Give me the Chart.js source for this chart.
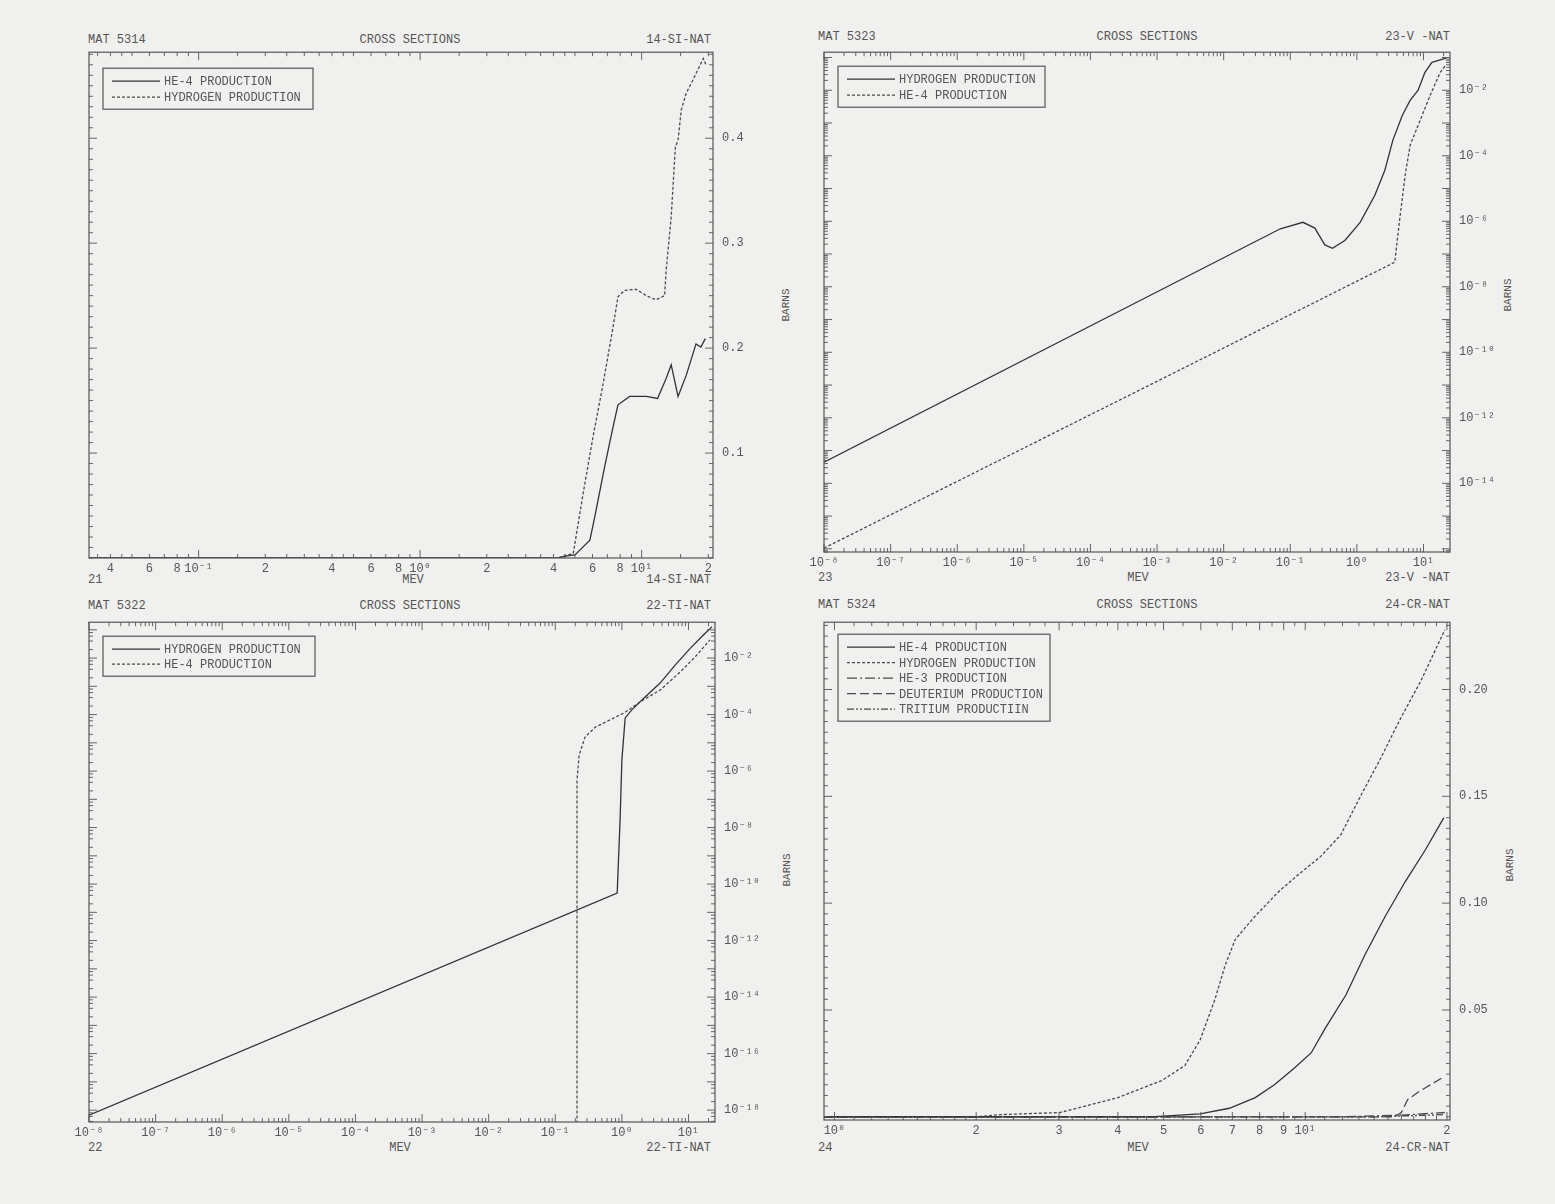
<!DOCTYPE html>
<html>
<head>
<meta charset="utf-8">
<script src="https://cdn.jsdelivr.net/npm/chart.js@4.4.1/dist/chart.umd.min.js"></script>
<style>
  body { margin: 0; width: 1555px; height: 1204px; position: relative; overflow: hidden;
         background: #f0f0ee; font-family: 'Liberation Mono', 'DejaVu Sans Mono', monospace; color: #555; }
  .t { position: absolute; font-size: 12px; line-height: 12px; white-space: pre; }
  .c { transform: translateX(-50%); }
  .r { transform: translateX(-100%); }
  .barns { position: absolute; font-size: 11px; line-height: 11px; transform: translate(-50%, -50%) rotate(-90deg); }
  canvas { position: absolute; }
</style>
</head>
<body>
<!-- panel 1 texts -->
<div class="t" style="left:88px;top:34px">MAT 5314</div>
<div class="t c" style="left:410px;top:34px">CROSS SECTIONS</div>
<div class="t r" style="left:711px;top:34px">14-SI-NAT</div>
<div class="t" style="left:88px;top:574px">21</div>
<div class="t c" style="left:413px;top:574px">MEV</div>
<div class="t r" style="left:711px;top:574px">14-SI-NAT</div>
<div class="barns" style="left:786px;top:305px">BARNS</div>
<!-- panel 2 texts -->
<div class="t" style="left:818px;top:31px">MAT 5323</div>
<div class="t c" style="left:1147px;top:31px">CROSS SECTIONS</div>
<div class="t r" style="left:1450px;top:31px">23-V -NAT</div>
<div class="t" style="left:818px;top:572px">23</div>
<div class="t c" style="left:1138px;top:572px">MEV</div>
<div class="t r" style="left:1450px;top:572px">23-V -NAT</div>
<div class="barns" style="left:1508px;top:295px">BARNS</div>
<!-- panel 3 texts -->
<div class="t" style="left:88px;top:600px">MAT 5322</div>
<div class="t c" style="left:410px;top:600px">CROSS SECTIONS</div>
<div class="t r" style="left:711px;top:600px">22-TI-NAT</div>
<div class="t" style="left:88px;top:1142px">22</div>
<div class="t c" style="left:400px;top:1142px">MEV</div>
<div class="t r" style="left:711px;top:1142px">22-TI-NAT</div>
<div class="barns" style="left:787px;top:870px">BARNS</div>
<!-- panel 4 texts -->
<div class="t" style="left:818px;top:599px">MAT 5324</div>
<div class="t c" style="left:1147px;top:599px">CROSS SECTIONS</div>
<div class="t r" style="left:1450px;top:599px">24-CR-NAT</div>
<div class="t" style="left:818px;top:1142px">24</div>
<div class="t c" style="left:1138px;top:1142px">MEV</div>
<div class="t r" style="left:1450px;top:1142px">24-CR-NAT</div>
<div class="barns" style="left:1510px;top:865px">BARNS</div>

<script>
// ---- 14-SI-NAT (MeV, barns) ----
const siHe4Energy = [0.032, 4.2, 4.6, 5.0, 5.84, 6.14, 6.81, 7.43, 7.82, 8.83, 10.5, 11.8, 12.9, 13.6, 14.6, 15.9, 17.6, 18.5, 19.4];
const siHe4 = [0, 0, 0.002, 0.003, 0.017, 0.039, 0.087, 0.125, 0.146, 0.154, 0.154, 0.152, 0.171, 0.184, 0.154, 0.174, 0.204, 0.201, 0.209];
const siHEnergy = [0.032, 4.2, 4.6, 4.91, 5.45, 6.04, 6.70, 7.43, 7.82, 8.37, 9.46, 10.5, 11.6, 12.7, 12.9, 13.6, 14.2, 14.6, 15.1, 15.9, 17.0, 18.2, 19.0, 19.5];
const siH = [0, 0, 0.003, 0.004, 0.062, 0.116, 0.166, 0.220, 0.249, 0.255, 0.256, 0.250, 0.246, 0.250, 0.274, 0.325, 0.392, 0.398, 0.427, 0.443, 0.455, 0.468, 0.476, 0.470];

// ---- 23-V-NAT ----
const vHEnergy = [1e-8, 0.071, 0.155, 0.234, 0.33, 0.43, 0.66, 1.12, 1.86, 2.63, 3.47, 4.8, 6.3, 8.3, 10.5, 13.4, 21.9];
const vH = [4.4e-14, 5.9e-7, 9.3e-7, 6.2e-7, 1.9e-7, 1.5e-7, 2.6e-7, 9.3e-7, 6.2e-6, 3.6e-5, 3.0e-4, 1.7e-3, 4.9e-3, 1.0e-2, 3.5e-2, 7.1e-2, 9.5e-2];
const vHe4Energy = [1e-8, 3.7, 4.46, 5.3, 6.3, 8.9, 12.6, 17.8, 21.9];
const vHe4 = [1.05e-16, 5.6e-8, 1.5e-6, 2.5e-5, 2.1e-4, 1.2e-3, 7.0e-3, 3.5e-2, 6.0e-2];

// ---- 22-TI-NAT ----
const tiHEnergy = [1e-8, 0.85, 0.94, 1.0, 1.12, 1.42, 2.23, 3.75, 6.3, 10.6, 17.8, 22.6];
const tiH = [6.6e-19, 4.8e-11, 1.9e-8, 2.5e-6, 7.6e-5, 1.5e-4, 4.2e-4, 1.3e-3, 5.6e-3, 2.2e-2, 7.6e-2, 0.13];
const tiHe4Energy = [0.212, 0.212, 0.228, 0.28, 0.40, 0.665, 1.12, 1.87, 3.75, 7.5, 12.6, 21];
const tiHe4 = [1e-19, 4.8e-7, 3.7e-6, 1.6e-5, 3.6e-5, 6.5e-5, 1.2e-4, 2.8e-4, 7.4e-4, 3.2e-3, 1.1e-2, 4.4e-2];

// ---- 24-CR-NAT ----
const crHe4Energy = [0.95, 4.7, 5.98, 6.9, 7.83, 8.6, 9.5, 10.3, 11.0, 12.2, 13.4, 14.8, 16.3, 18.0, 19.7];
const crHe4 = [0, 0, 0.0014, 0.004, 0.009, 0.015, 0.023, 0.030, 0.041, 0.057, 0.076, 0.094, 0.110, 0.125, 0.140];
const crHEnergy = [0.95, 2.0, 2.24, 3.01, 4.0, 4.96, 5.55, 5.98, 6.43, 6.76, 7.10, 7.83, 8.84, 9.75, 10.8, 11.9, 13.1, 14.4, 15.9, 17.6, 19.8];
const crH = [0, 0, 0.001, 0.002, 0.009, 0.017, 0.024, 0.036, 0.055, 0.071, 0.083, 0.094, 0.106, 0.114, 0.122, 0.132, 0.150, 0.167, 0.186, 0.204, 0.228];
const crHe3Energy = [0.95, 12, 16, 19.8];
const crHe3 = [0, 0, 0.0008, 0.002];
const crDEnergy = [0.95, 15.5, 16.0, 16.5, 17.5, 19.8];
const crD = [0, 0, 0.002, 0.008, 0.012, 0.019];
const crTEnergy = [0.95, 14, 19.8];
const crT = [0, 0, 0.001];

// ---- tick labels ----
const siXLabels = [[0.04, '4'], [0.06, '6'], [0.08, '8'], [0.1, '10⁻¹'], [0.2, '2'], [0.4, '4'], [0.6, '6'], [0.8, '8'],
                   [1, '10⁰'], [2, '2'], [4, '4'], [6, '6'], [8, '8'], [10, '10¹'], [20, '2']];
const siYLabels = [[0.1, '0.1'], [0.2, '0.2'], [0.3, '0.3'], [0.4, '0.4']];
const decadeXLabels = [[1e-8, '10⁻⁸'], [1e-7, '10⁻⁷'], [1e-6, '10⁻⁶'], [1e-5, '10⁻⁵'], [1e-4, '10⁻⁴'],
                       [1e-3, '10⁻³'], [1e-2, '10⁻²'], [1e-1, '10⁻¹'], [1, '10⁰'], [10, '10¹']];
const vYLabels = [[1e-2, '10⁻²'], [1e-4, '10⁻⁴'], [1e-6, '10⁻⁶'], [1e-8, '10⁻⁸'], [1e-10, '10⁻¹⁰'], [1e-12, '10⁻¹²'], [1e-14, '10⁻¹⁴']];
const tiYLabels = vYLabels.concat([[1e-16, '10⁻¹⁶'], [1e-18, '10⁻¹⁸']]);
const crXLabels = [[1, '10⁰'], [2, '2'], [3, '3'], [4, '4'], [5, '5'], [6, '6'], [7, '7'], [8, '8'], [9, '9'], [10, '10¹'], [20, '2']];
const crYLabels = [[0.05, '0.05'], [0.10, '0.10'], [0.15, '0.15'], [0.20, '0.20']];

const FONT = "'Liberation Mono', 'DejaVu Sans Mono', monospace";
const INK = '#555';

function pts(xs, ys) { return xs.map((x, i) => ({ x: x, y: ys[i] })); }
function near(a, b) {
    if (a === b) return true;
    return Math.abs(a - b) <= 1e-7 * Math.max(Math.abs(a), Math.abs(b));
}

function decades(lo, hi, mults) {
    const out = [];
    for (let k = lo; k <= hi; k++) mults.forEach(m => out.push(m * Math.pow(10, k)));
    return out;
}
function steps(from, to, step) {
    const out = [];
    const n = Math.round((to - from) / step);
    for (let i = 0; i <= n; i++) out.push(Math.round((from + i * step) * 1e6) / 1e6);
    return out;
}

function tickAxis(minor, big, labels, side) {
    minor = minor.filter(v => !big.some(b => near(b, v)));
    const all = big.concat(minor);
    return {
        afterBuildTicks(scale) {
            scale.ticks = all.filter(v => v >= scale.min && v <= scale.max)
                .map(v => ({ value: v, big: big.some(b => near(b, v)) }));
        },
        afterFit(scale) {
            if (side === 'x') scale.height = 28; else scale.width = 70;
        },
        grid: { display: false, drawTicks: false },
        border: { display: false },
        ticks: {
            autoSkip: false,
            maxRotation: 0,
            padding: side === 'x' ? 4 : 9,
            color: INK,
            font: { family: FONT, size: 12 },
            callback(value) {
                const hit = labels.find(l => near(l[0], value));
                return hit ? hit[1] : '';
            }
        }
    };
}

const framePlugin = {
    id: 'frame',
    afterDatasetsDraw(chart) {
        const { ctx, chartArea: a, scales } = chart;
        ctx.save();
        ctx.strokeStyle = INK;
        ctx.lineWidth = 1.2;
        ctx.strokeRect(a.left, a.top, a.right - a.left, a.bottom - a.top);
        ctx.lineWidth = 0.9;
        ctx.beginPath();
        scales.x.ticks.forEach(t => {
            const p = scales.x.getPixelForValue(t.value);
            const len = t.big ? 8 : 4;
            ctx.moveTo(p, a.bottom); ctx.lineTo(p, a.bottom - len);
            ctx.moveTo(p, a.top); ctx.lineTo(p, a.top + len);
        });
        scales.y.ticks.forEach(t => {
            const p = scales.y.getPixelForValue(t.value);
            const len = t.big ? 8 : 4;
            ctx.moveTo(a.left, p); ctx.lineTo(a.left + len, p);
            ctx.moveTo(a.right, p); ctx.lineTo(a.right - len, p);
        });
        ctx.stroke();
        ctx.restore();
    }
};

const boxLegend = {
    id: 'boxLegend',
    afterDatasetsDraw(chart, args, opts) {
        if (!opts || opts.w === undefined) return;
        const { ctx, chartArea: a } = chart;
        const sets = chart.data.datasets;
        const x0 = a.left + opts.dx, y0 = a.top + opts.dy;
        const h = 13 + (sets.length - 1) * opts.row + 12;
        ctx.save();
        ctx.strokeStyle = INK;
        ctx.lineWidth = 1.2;
        ctx.strokeRect(x0, y0, opts.w, h);
        sets.forEach((ds, i) => {
            const y = y0 + 13 + i * opts.row;
            ctx.setLineDash(ds.borderDash || []);
            ctx.strokeStyle = ds.borderColor;
            ctx.lineWidth = ds.borderWidth;
            ctx.beginPath();
            ctx.moveTo(x0 + 9, y);
            ctx.lineTo(x0 + 57, y);
            ctx.stroke();
            ctx.setLineDash([]);
            ctx.fillStyle = INK;
            ctx.font = '12px ' + FONT;
            ctx.textBaseline = 'middle';
            ctx.fillText(ds.label, x0 + 61, y + 1);
        });
        ctx.restore();
    }
};

function line(label, xs, ys, dash) {
    return {
        label: label,
        data: pts(xs, ys),
        borderColor: dash ? '#4a4a4a' : '#333',
        borderWidth: 1.3,
        borderDash: dash || [],
        pointRadius: 0,
        tension: 0,
        fill: false
    };
}

function makePanel(box, datasets, xType, xMin, xMax, xAxis, yType, yMin, yMax, yAxis, legend) {
    const padL = 30, padT = 16, axW = 70, axH = 28;
    const cv = document.createElement('canvas');
    const w = padL + (box.r - box.l) + axW;
    const h = padT + (box.b - box.t) + axH;
    cv.width = w; cv.height = h;
    cv.style.left = (box.l - padL) + 'px';
    cv.style.top = (box.t - padT) + 'px';
    cv.style.width = w + 'px';
    cv.style.height = h + 'px';
    document.body.appendChild(cv);

    new Chart(cv, {
        type: 'line',
        data: { datasets: datasets },
        options: {
            responsive: false,
            devicePixelRatio: 1,
            animation: false,
            layout: { padding: { left: padL, top: padT, right: 0, bottom: 0 } },
            plugins: { legend: { display: false }, tooltip: { enabled: false }, boxLegend: legend },
            scales: {
                x: Object.assign({ type: xType, position: 'bottom', min: xMin, max: xMax }, xAxis),
                y: Object.assign({ type: yType, position: 'right', min: yMin, max: yMax }, yAxis)
            }
        },
        plugins: [framePlugin, boxLegend]
    });
}

const m19 = [1, 2, 3, 4, 5, 6, 7, 8, 9];
const hm = [1, 1.5, 2, 2.5, 3, 3.5, 4, 4.5, 5, 6, 7, 8, 9];

// 14-SI-NAT
makePanel({ l: 89, t: 52, r: 713, b: 558 },
    [line('HE-4 PRODUCTION', siHe4Energy, siHe4), line('HYDROGEN PRODUCTION', siHEnergy, siH, [3, 2])],
    'logarithmic', 0.032, 21, tickAxis(decades(-2, 1, hm), [0.1, 1, 10], siXLabels, 'x'),
    'linear', 0, 0.482, tickAxis(steps(0, 0.48, 0.01), [0.1, 0.2, 0.3, 0.4], siYLabels, 'y'),
    { dx: 14, dy: 16, w: 210, row: 16 });

// 23-V-NAT
makePanel({ l: 824, t: 52, r: 1450, b: 552 },
    [line('HYDROGEN PRODUCTION', vHEnergy, vH), line('HE-4 PRODUCTION', vHe4Energy, vHe4, [3, 2])],
    'logarithmic', 1e-8, 25, tickAxis(decades(-8, 1, m19), decadeXLabels.map(l => l[0]), decadeXLabels, 'x'),
    'logarithmic', 8e-17, 0.145, tickAxis(decades(-17, -1, [2, 3, 4, 5, 6, 7, 8, 9]), decades(-16, -1, [1]), vYLabels, 'y'),
    { dx: 14, dy: 14, w: 207, row: 16 });

// 22-TI-NAT
makePanel({ l: 89, t: 622, r: 715, b: 1122 },
    [line('HYDROGEN PRODUCTION', tiHEnergy, tiH), line('HE-4 PRODUCTION', tiHe4Energy, tiHe4, [3, 2])],
    'logarithmic', 1e-8, 25, tickAxis(decades(-8, 1, m19), decadeXLabels.map(l => l[0]), decadeXLabels, 'x'),
    'logarithmic', 3.8e-19, 0.186, tickAxis(decades(-19, -1, [2, 4, 6, 8]), decades(-18, -1, [1]), tiYLabels, 'y'),
    { dx: 14, dy: 14, w: 212, row: 15 });

// 24-CR-NAT
makePanel({ l: 824, t: 622, r: 1450, b: 1120 },
    [line('HE-4 PRODUCTION', crHe4Energy, crHe4),
     line('HYDROGEN PRODUCTION', crHEnergy, crH, [3, 2]),
     line('HE-3 PRODUCTION', crHe3Energy, crHe3, [10, 3, 2, 3]),
     line('DEUTERIUM PRODUCTION', crDEnergy, crD, [9, 4]),
     line('TRITIUM PRODUCTIIN', crTEnergy, crT, [7, 2, 2, 2, 2, 2])],
    'logarithmic', 0.95, 20.3,
    tickAxis(steps(1, 2, 0.1).concat(steps(2, 5, 0.2), steps(5, 10, 0.5), steps(10, 20, 1)),
             [1, 2, 3, 4, 5, 6, 7, 8, 9, 10, 20], crXLabels, 'x'),
    'linear', -0.0015, 0.2315, tickAxis(steps(0, 0.23, 0.005), [0.05, 0.10, 0.15, 0.20], crYLabels, 'y'),
    { dx: 14, dy: 12, w: 212, row: 15.5 });
</script>
</body>
</html>
